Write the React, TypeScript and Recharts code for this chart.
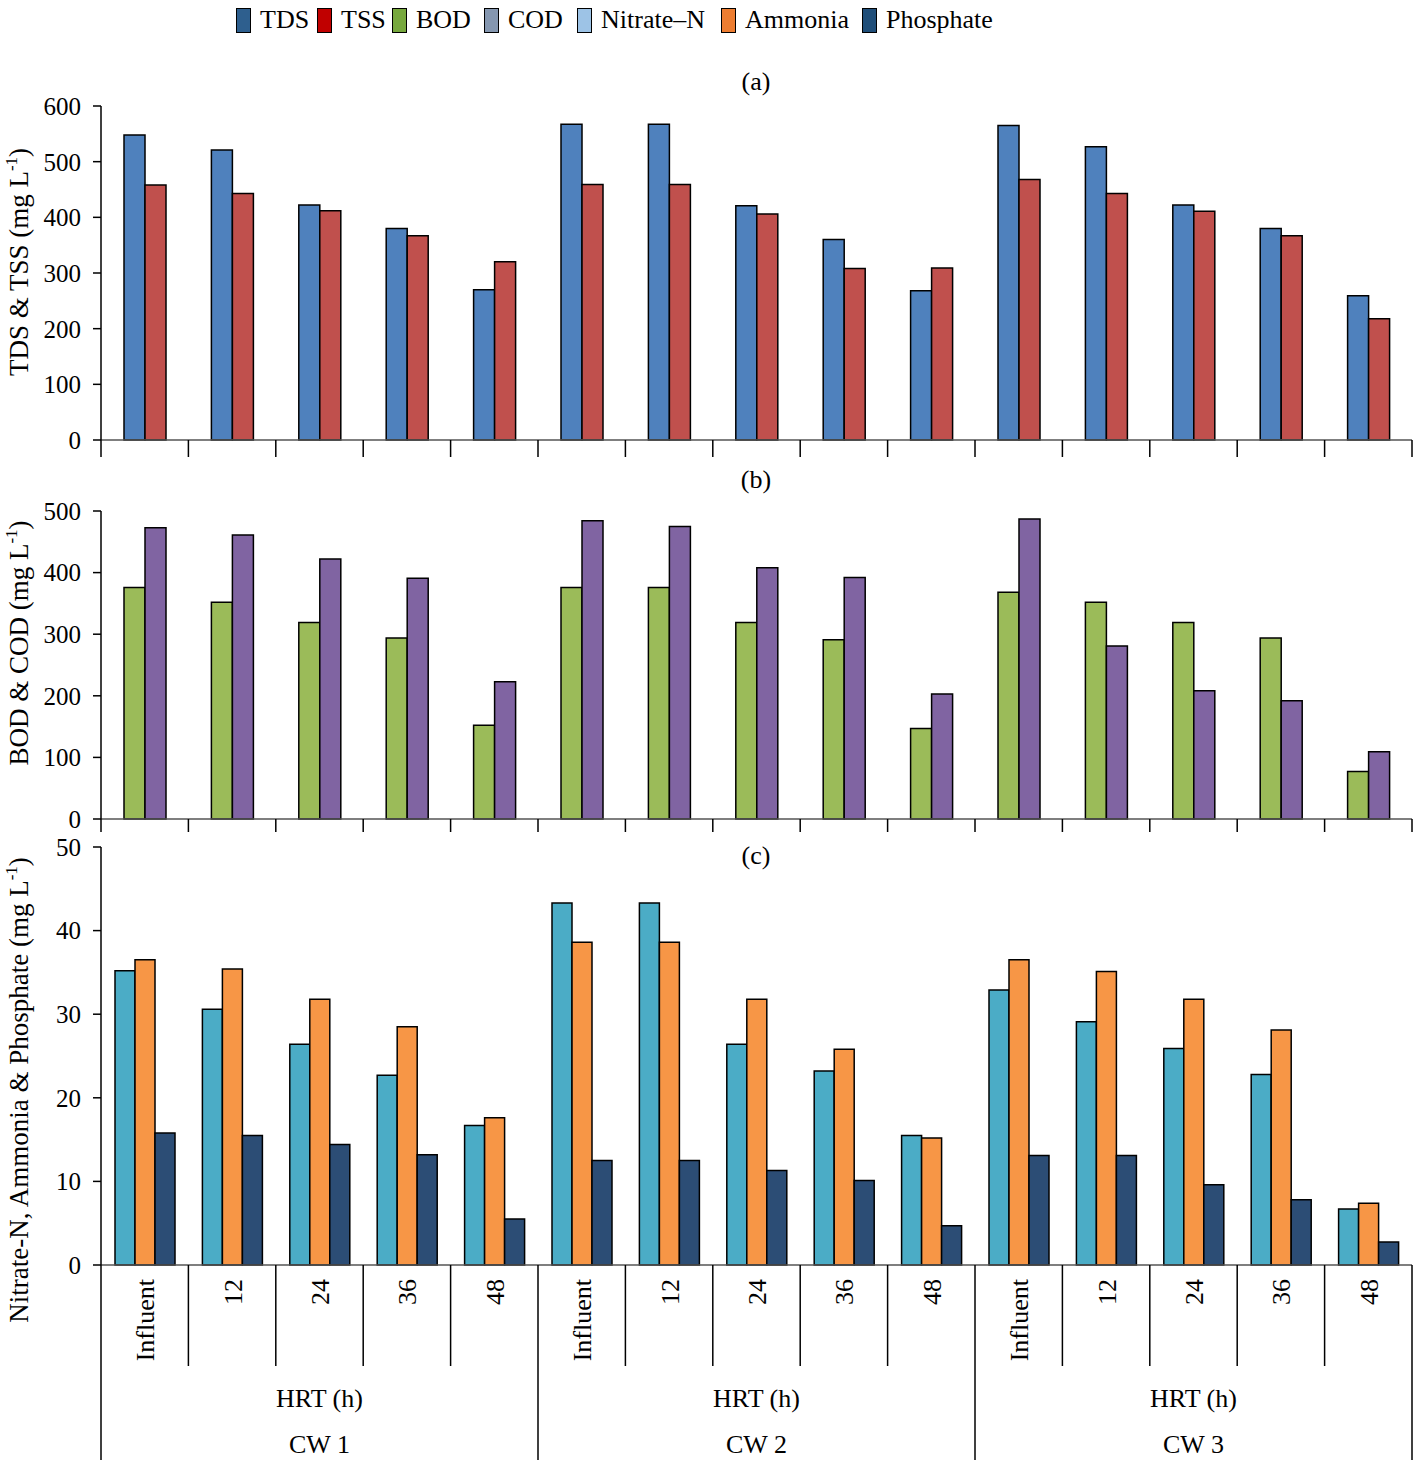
import React from "react";
import { BarChart, Bar, XAxis, YAxis } from "recharts";

const FONT = "'Liberation Serif', 'Times New Roman', serif";

const categories = [
  "Influent", "12", "24", "36", "48",
  "Influent", "12", "24", "36", "48",
  "Influent", "12", "24", "36", "48",
];
const wetlands = ["CW 1", "CW 2", "CW 3"];

const tds = [548, 521, 422, 380, 270, 567, 567, 421, 360, 268, 565, 527, 422, 380, 259];
const tss = [458, 443, 412, 367, 320, 459, 459, 406, 308, 309, 468, 443, 411, 367, 218];
const bod = [376, 352, 319, 294, 152, 376, 376, 319, 291, 147, 368, 352, 319, 294, 77];
const cod = [473, 461, 422, 391, 223, 484, 475, 408, 392, 203, 487, 281, 208, 192, 109];
const nitrate = [35.2, 30.6, 26.4, 22.7, 16.7, 43.3, 43.3, 26.4, 23.2, 15.5, 32.9, 29.1, 25.9, 22.8, 6.7];
const ammonia = [36.5, 35.4, 31.8, 28.5, 17.6, 38.6, 38.6, 31.8, 25.8, 15.2, 36.5, 35.1, 31.8, 28.1, 7.4];
const phosphate = [15.8, 15.5, 14.4, 13.2, 5.5, 12.5, 12.5, 11.3, 10.1, 4.7, 13.1, 13.1, 9.6, 7.8, 2.75];

const data = categories.map((c, i) => ({
  cat: c + "_" + i,
  label: c,
  TDS: tds[i],
  TSS: tss[i],
  BOD: bod[i],
  COD: cod[i],
  Nitrate: nitrate[i],
  Ammonia: ammonia[i],
  Phosphate: phosphate[i],
}));

// legend swatches as they appear in the figure (x = left edge of swatch)
const legendItems = [
  { name: "TDS", color: "#2E5F8E", x: 236 },
  { name: "TSS", color: "#C00000", x: 317 },
  { name: "BOD", color: "#77A83E", x: 392 },
  { name: "COD", color: "#8597B0", x: 484 },
  { name: "Nitrate\u2013N", color: "#9DC3E6", x: 577 },
  { name: "Ammonia", color: "#ED7D31", x: 721 },
  { name: "Phosphate", color: "#1F4E79", x: 862 },
];

const W = 1418;
const AXIS_W = 101;
const RIGHT = 6;
const BAND = (W - AXIS_W - RIGHT) / categories.length;

function BoundaryTick(props: any) {
  const { x, y, index, len } = props;
  const left = x - BAND / 2;
  return (
    <g>
      <line x1={left} x2={left} y1={y} y2={y + len} stroke="#000" strokeWidth={1.5} />
      {index === categories.length - 1 && (
        <line x1={x + BAND / 2} x2={x + BAND / 2} y1={y} y2={y + len} stroke="#000" strokeWidth={1.5} />
      )}
    </g>
  );
}

function GroupTick(props: any) {
  const { x, y, index, payload } = props;
  const left = x - BAND / 2;
  const label = categories[index] ?? payload.value;
  const isGroupStart = index % 5 === 0;
  return (
    <g>
      <line x1={left} x2={left} y1={y} y2={isGroupStart ? y + 195 : y + 101} stroke="#000" strokeWidth={1.5} />
      {index === categories.length - 1 && (
        <line x1={x + BAND / 2} x2={x + BAND / 2} y1={y} y2={y + 195} stroke="#000" strokeWidth={1.5} />
      )}
      <text
        transform={`translate(${x + 1},${y + 14}) rotate(-90)`}
        textAnchor="end"
        dominantBaseline="central"
        fontSize={26}
        fontFamily={FONT}
        fill="#000"
      >
        {label}
      </text>
      {index % 5 === 2 && (
        <>
          <text x={x} y={y + 142} textAnchor="middle" fontSize={26} fontFamily={FONT} fill="#000">
            HRT (h)
          </text>
          <text x={x} y={y + 188} textAnchor="middle" fontSize={26} fontFamily={FONT} fill="#000">
            {wetlands[Math.floor(index / 5)]}
          </text>
        </>
      )}
    </g>
  );
}

function YLabel({ text, cy }: { text: string; cy: number }) {
  return (
    <text
      transform={`translate(19,${cy}) rotate(-90)`}
      textAnchor="middle"
      dominantBaseline="central"
      fontSize={27}
      fontFamily={FONT}
      fill="#000"
    >
      {text} (mg L
      <tspan dy={-8} fontSize={17}>-1</tspan>
      <tspan dy={8}>)</tspan>
    </text>
  );
}

const yTick = { fontSize: 25, fontFamily: FONT, fill: "#000" };

function Panel(props: {
  top: number;
  height: number;
  xHeight: number;
  domain: [number, number];
  ticks: number[];
  series: { key: string; color: string }[];
  barSize: number;
  label: string;
  labelCy: number;
  tick: (p: any) => React.ReactElement;
}) {
  return (
    <div style={{ position: "absolute", left: 0, top: props.top }}>
      <BarChart
        width={W}
        height={props.height}
        data={data}
        margin={{ top: 20, right: RIGHT, bottom: 0, left: 0 }}
        barGap={0}
      >
        <XAxis
          dataKey="cat"
          height={props.xHeight}
          interval={0}
          tickLine={false}
          tickSize={0}
          tickMargin={0}
          axisLine={{ stroke: "#555", strokeWidth: 1.5 }}
          tick={props.tick}
        />
        <YAxis
          width={AXIS_W}
          domain={props.domain}
          ticks={props.ticks}
          interval={0}
          tick={yTick}
          tickSize={8}
          tickMargin={12}
          tickLine={{ stroke: "#000", strokeWidth: 1.5 }}
          axisLine={{ stroke: "#000", strokeWidth: 1.5 }}
          label={{ content: () => <YLabel text={props.label} cy={props.labelCy} /> }}
        />
        {props.series.map((s) => (
          <Bar
            key={s.key}
            dataKey={s.key}
            fill={s.color}
            stroke="#000"
            strokeWidth={1.5}
            barSize={props.barSize}
            isAnimationActive={false}
          />
        ))}
      </BarChart>
    </div>
  );
}

const titleStyle: React.CSSProperties = {
  position: "absolute",
  left: 0,
  width: 1512,
  textAlign: "center",
  fontSize: 26,
  fontFamily: FONT,
  lineHeight: "30px",
};

export default function App() {
  return (
    <div style={{ position: "absolute", left: 0, top: 0, width: W, height: 1460, background: "#fff", fontFamily: FONT }}>
      {legendItems.map((it) => (
        <div
          key={it.name}
          style={{
            position: "absolute",
            top: 4,
            left: it.x,
            display: "flex",
            alignItems: "center",
            fontSize: 26,
            lineHeight: "32px",
            whiteSpace: "nowrap",
          }}
        >
          <span
            style={{
              display: "inline-block",
              width: 13,
              height: 23,
              background: it.color,
              border: "1.5px solid #000",
              marginRight: 9,
            }}
          />
          <span>{it.name}</span>
        </div>
      ))}

      <div style={{ ...titleStyle, top: 67 }}>(a)</div>
      <div style={{ ...titleStyle, top: 465 }}>(b)</div>

      <Panel
        top={86}
        height={374}
        xHeight={20}
        domain={[0, 600]}
        ticks={[0, 100, 200, 300, 400, 500, 600]}
        series={[
          { key: "TDS", color: "#4F81BD" },
          { key: "TSS", color: "#C0504D" },
        ]}
        barSize={21}
        label="TDS & TSS"
        labelCy={176}
        tick={(p: any) => <BoundaryTick {...p} len={17} />}
      />
      <Panel
        top={491}
        height={348}
        xHeight={20}
        domain={[0, 500]}
        ticks={[0, 100, 200, 300, 400, 500]}
        series={[
          { key: "BOD", color: "#9BBB59" },
          { key: "COD", color: "#8064A2" },
        ]}
        barSize={21}
        label="BOD & COD"
        labelCy={152}
        tick={(p: any) => <BoundaryTick {...p} len={13} />}
      />
      <Panel
        top={827}
        height={633}
        xHeight={195}
        domain={[0, 50]}
        ticks={[0, 10, 20, 30, 40, 50]}
        series={[
          { key: "Nitrate", color: "#4BACC6" },
          { key: "Ammonia", color: "#F79646" },
          { key: "Phosphate", color: "#2C4D75" },
        ]}
        barSize={20}
        label="Nitrate-N, Ammonia & Phosphate"
        labelCy={263}
        tick={(p: any) => <GroupTick {...p} />}
      />
      <div style={{ ...titleStyle, top: 841 }}>(c)</div>
    </div>
  );
}
